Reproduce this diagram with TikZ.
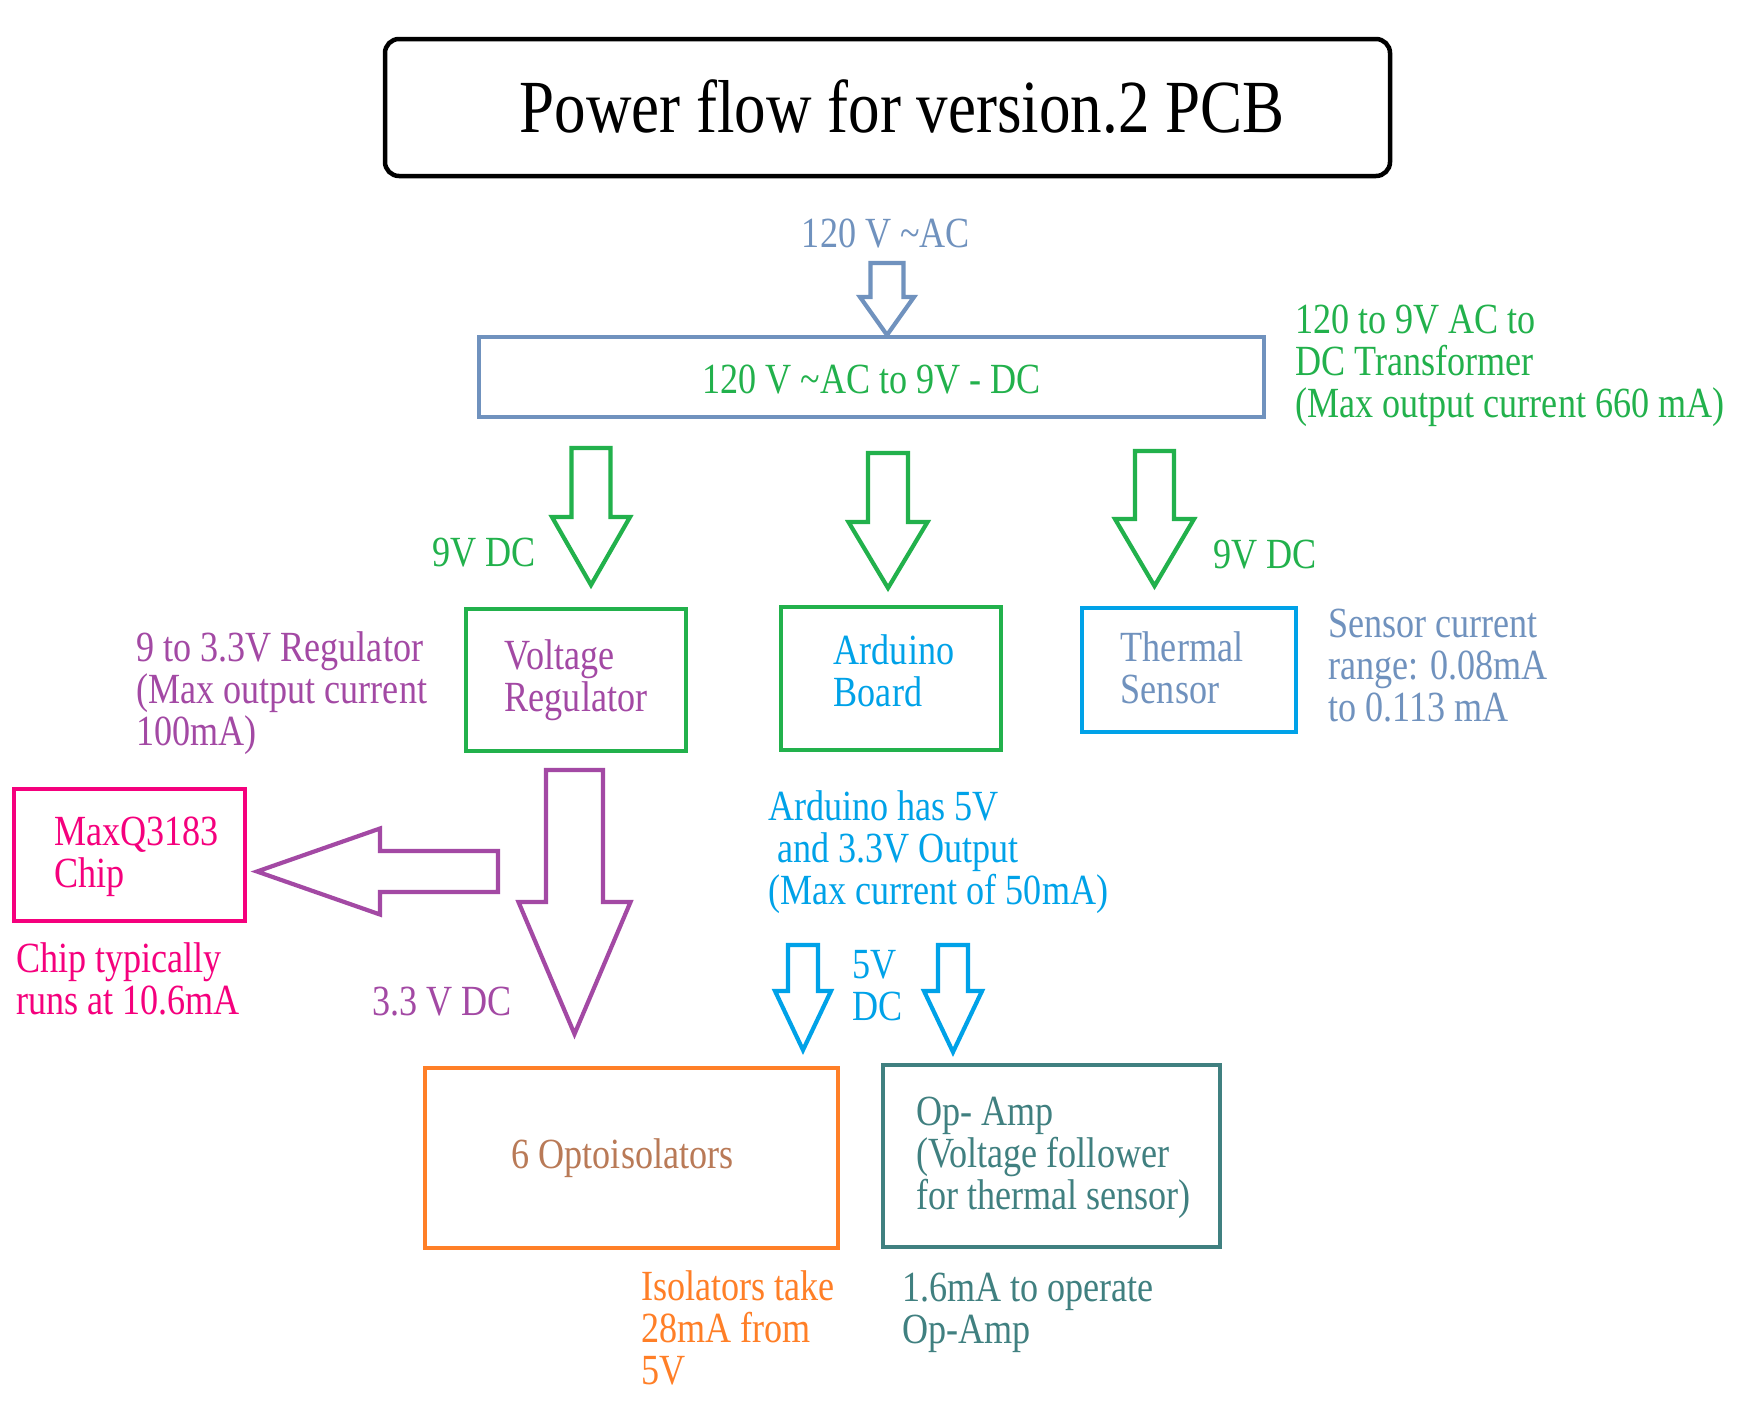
\documentclass[tikz,border=0pt]{standalone}
\usepackage{fontspec}
\setmainfont{Liberation Serif}[FakeStretch=0.84]
\definecolor{steel}{RGB}{112,146,190}
\definecolor{pgreen}{RGB}{34,177,76}
\definecolor{ppurple}{RGB}{163,73,164}
\definecolor{pblue}{RGB}{0,162,232}
\definecolor{ppink}{RGB}{245,0,125}
\definecolor{porange}{RGB}{255,127,39}
\definecolor{pteal}{RGB}{64,128,128}
\definecolor{pbrown}{RGB}{185,122,87}
% color, cx, shafthalf, top, heady, headhalf, tipy
\newcommand\blkdown[7]{\draw[blk,draw=#1] ({#2-#3},{-#4}) -- ({#2+#3},{-#4}) -- ({#2+#3},{-#5}) -- ({#2+#6},{-#5}) -- (#2,{-#7}) -- ({#2-#6},{-#5}) -- ({#2-#3},{-#5}) -- cycle;}
% color, cy, shafthalf, tailx, headx, headhalf, tipx
\newcommand\blkleft[7]{\draw[blk,draw=#1] (#4,{-#2+#3}) -- (#4,{-#2-#3}) -- (#5,{-#2-#3}) -- (#5,{-#2-#6}) -- (#7,{-#2}) -- (#5,{-#2+#6}) -- (#5,{-#2+#3}) -- cycle;}
\begin{document}
\begin{tikzpicture}[x=1pt,y=1pt,
  txt/.style={font=\fontsize{43}{42}\selectfont, inner sep=0pt, align=left},
  box/.style={draw, line width=4.5pt, inner sep=0pt},
  blk/.style={line width=4.2pt, line join=miter, fill=white}]
\fill[white] (0,0) rectangle (1740,-1406);
\useasboundingbox (0,0) rectangle (1740,-1406);

% title
\node[draw, line width=4.5pt, rounded corners=14pt, minimum width=1005pt, minimum height=137pt, inner sep=0pt] (title) at (887.5,-107.5) {};
\node[font=\fontsize{75}{80}\selectfont, inner sep=0pt] (titletext) at (902,-107) {Power flow for version.2 PCB};

% input
\node[txt, text=steel] (acin) at (886,-234) {120 V \textasciitilde AC};
\blkdown{steel}{887}{16.5}{263}{297}{27}{335}

% transformer
\node[box, draw=steel, minimum width=785pt, minimum height=80pt] (trans) at (871.5,-377) {};
\node[txt, text=pgreen, yshift=-3pt] (transtext) at (trans.center) {120 V \textasciitilde AC to 9V - DC};
\node[txt, text=pgreen, anchor=west] (transnote) at (1295,-366) {120 to 9V AC to\\DC Transformer\\(Max output current 660 mA)};

% green arrows
\blkdown{pgreen}{591}{19.5}{448}{517}{39}{585}
\blkdown{pgreen}{888}{20}{453}{522}{39.5}{588}
\blkdown{pgreen}{1154.5}{19.5}{451}{519}{39.5}{586}
\node[txt, text=pgreen] (dcl) at (484,-553) {9V DC};
\node[txt, text=pgreen] (dcr) at (1265,-555) {9V DC};

% second row boxes
\node[box, draw=pgreen, minimum width=220pt, minimum height=142pt] (vreg) at (576,-680) {};
\node[txt, text=ppurple] (vregtext) at (vreg.center) {Voltage\\Regulator};
\node[box, draw=pgreen, minimum width=220pt, minimum height=143pt] (ard) at (891,-678.5) {};
\node[txt, text=pblue, xshift=3pt, yshift=8pt] (ardtext) at (ard.center) {Arduino\\Board};
\node[box, draw=pblue, minimum width=214pt, minimum height=124pt] (therm) at (1189,-670) {};
\node[txt, text=steel, xshift=-7pt, yshift=2pt] (thermtext) at (therm.center) {Thermal\\Sensor};
\node[txt, text=steel, anchor=west] (sensnote) at (1328,-666) {Sensor current\\range: 0.08mA\\to 0.113 mA};
\node[txt, text=ppurple, anchor=west] (regnote) at (136,-693) {9 to 3.3V Regulator\\(Max output current\\100mA)};

% purple arrows
\blkdown{ppurple}{574.5}{28.5}{770}{902}{56}{1034}
\blkleft{ppurple}{871.5}{20.5}{498}{380}{43}{257}

% MaxQ chip
\node[box, draw=ppink, minimum width=231pt, minimum height=132pt] (maxq) at (129.5,-855) {};
\node[txt, text=ppink, xshift=7pt, yshift=-2pt] (maxqtext) at (maxq.center) {MaxQ3183\\Chip};
\node[txt, text=ppink, anchor=west] (chipnote) at (16,-979) {Chip typically\\runs at 10.6mA};
\node[txt, text=ppurple] (v33) at (442,-1002) {3.3 V DC};

% arduino outputs
\node[txt, text=pblue, anchor=west] (ardnote) at (768,-852) {Arduino has 5V\\\ and 3.3V Output\\(Max current of 50mA)};
\blkdown{pblue}{803}{15}{945}{991}{28}{1050}
\blkdown{pblue}{953}{15}{945}{991}{29}{1052}
\node[txt, text=pblue, anchor=west] (v5) at (852,-986) {5V\\DC};

% bottom boxes
\node[box, draw=porange, minimum width=413pt, minimum height=180pt] (opto) at (631.5,-1158) {};
\node[txt, text=pbrown, xshift=-9pt] (optotext) at (opto.center) {6 Optoisolators};
\node[box, draw=pteal, minimum width=337pt, minimum height=182pt] (opamp) at (1051.5,-1156) {};
\node[txt, text=pteal, xshift=2pt, yshift=-2pt] (opamptext) at (opamp.center) {Op- Amp\\(Voltage follower\\for thermal sensor)};
\node[txt, text=porange, anchor=west] (isonote) at (641,-1328) {Isolators take\\28mA from\\5V};
\node[txt, text=pteal, anchor=west] (opnote) at (902,-1313) {1.6mA to operate\\Op-Amp};
\end{tikzpicture}
\end{document}
